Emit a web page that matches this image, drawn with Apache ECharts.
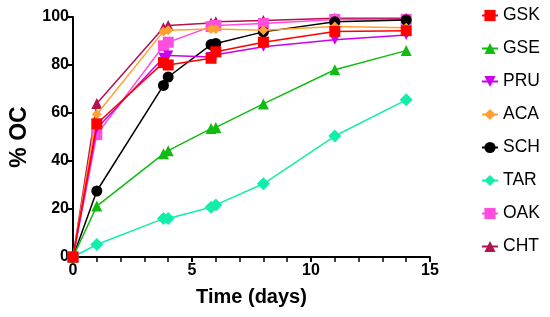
<!DOCTYPE html>
<html>
<head>
<meta charset="utf-8">
<script src="https://cdn.jsdelivr.net/npm/echarts@6/dist/echarts.min.js"></script>
<style>
html,body{margin:0;padding:0;background:#fff;}
#chart{width:550px;height:317px;}
</style>
</head>
<body>
<div id="chart"></div>
<script>
// Time points (days)
var days = [0, 1, 3.8, 4, 5.8, 6, 8, 11, 14];
// % OC per series
var GSK = [0, 55.5, 81, 80, 82.8, 85.5, 89.5, 94, 94.3];
var GSE = [0, 21.2, 43, 44.3, 53.5, 54, 63.8, 78, 86];
var PRU = [0, 53.5, 83, 84, 83.3, 84.3, 87.6, 90.5, 92.5];
var ACA = [0, 59.5, 94, 94.5, 95, 95, 94.5, 96, 95.5];
var SCH = [0, 27.5, 71.5, 75, 88.5, 89, 93.8, 98, 98.7];
var TAR = [0, 5.2, 16, 16, 20.7, 21.7, 30.5, 50.4, 65.5];
var OAK = [0, 51, 88, 89.5, 96, 96.5, 97.3, 99, 99];
var CHT = [0, 64, 95.5, 96.5, 97.5, 98, 98.5, 99.5, 99.5];

var seriesNames = ['GSK','GSE','PRU','ACA','SCH','TAR','OAK','CHT'];
var seriesData = [GSK, GSE, PRU, ACA, SCH, TAR, OAK, CHT];
var xTicks = [0, 5, 10, 15];
var yTicks = [0, 20, 40, 60, 80, 100];

var styles = {
  GSK: {color:'#ff0000', symbol:'rect', size:11, rot:0},
  GSE: {color:'#11bb11', symbol:'triangle', size:11, rot:0},
  PRU: {color:'#cc00ee', symbol:'triangle', size:10, rot:180},
  ACA: {color:'#ffa030', symbol:'diamond', size:[10,10], rot:0},
  SCH: {color:'#000000', symbol:'circle', size:11, rot:0},
  TAR: {color:'#11eeaa', symbol:'diamond', size:[13,13], rot:0},
  OAK: {color:'#ff4ddd', symbol:'rect', size:11, rot:0},
  CHT: {color:'#b3124f', symbol:'triangle', size:11, rot:0}
};

function pairs(arr){
  var out = [];
  for (var i = 0; i < days.length; i++) out.push([days[i], arr[i]]);
  return out;
}

var series = seriesNames.map(function(n, i){
  var s = styles[n];
  return {
    name: n,
    type: 'line',
    data: pairs(seriesData[i]),
    symbol: s.symbol,
    symbolSize: s.size,
    symbolRotate: s.rot,
    showAllSymbol: true,
    z: 20 - i,
    lineStyle: {color: s.color, width: 1.5},
    itemStyle: {color: s.color, borderWidth: 0},
    emphasis: {disabled: true},
    animation: false
  };
});

var chart = echarts.init(document.getElementById('chart'), null, {renderer:'canvas'});
chart.setOption({
  backgroundColor: '#ffffff',
  animation: false,
  grid: {left: 69, right: 120, top: 17, bottom: 60, containLabel: false},
  xAxis: {
    type: 'value', min: 0, max: 15, interval: 5,
    name: 'Time (days)', nameLocation: 'middle', nameGap: 30,
    nameTextStyle: {fontFamily: 'Liberation Sans', fontWeight: 'bold', fontSize: 20, color: '#000'},
    axisLine: {show: true, lineStyle: {color: '#000', width: 2}},
    axisTick: {show: true, length: 5, lineStyle: {color: '#000', width: 2}},
    minorTick: {show: true, splitNumber: 5, length: 5, lineStyle: {color: '#000', width: 1.5}},
    splitLine: {show: false},
    axisLabel: {fontFamily: 'Liberation Sans', fontWeight: 'bold', fontSize: 16, color: '#000', margin: 6,
      formatter: function(v){ return xTicks.indexOf(v) >= 0 ? String(v) : ''; }}
  },
  yAxis: {
    type: 'value', min: 0, max: 100, interval: 20,
    name: '% OC', nameLocation: 'middle', nameGap: 42, nameRotate: 90,
    nameTextStyle: {fontFamily: 'Liberation Sans', fontWeight: 'bold', fontSize: 23, color: '#000'},
    axisLine: {show: true, lineStyle: {color: '#000', width: 2}},
    axisTick: {show: true, length: 5, lineStyle: {color: '#000', width: 2}},
    splitLine: {show: false},
    axisLabel: {fontFamily: 'Liberation Sans', fontWeight: 'bold', fontSize: 16, color: '#000', margin: 4,
      formatter: function(v){ return yTicks.indexOf(v) >= 0 ? String(v) : ''; }}
  },
  legend: {
    orient: 'vertical', left: 481, top: 6.5, padding: 0,
    itemWidth: 16, itemHeight: 14, itemGap: 15,
    data: seriesNames,
    textStyle: {fontFamily: 'Liberation Sans', fontSize: 17.5, color: '#000', lineHeight: 17},
    selectedMode: false
  },
  series: series
});
</script>
</body>
</html>
